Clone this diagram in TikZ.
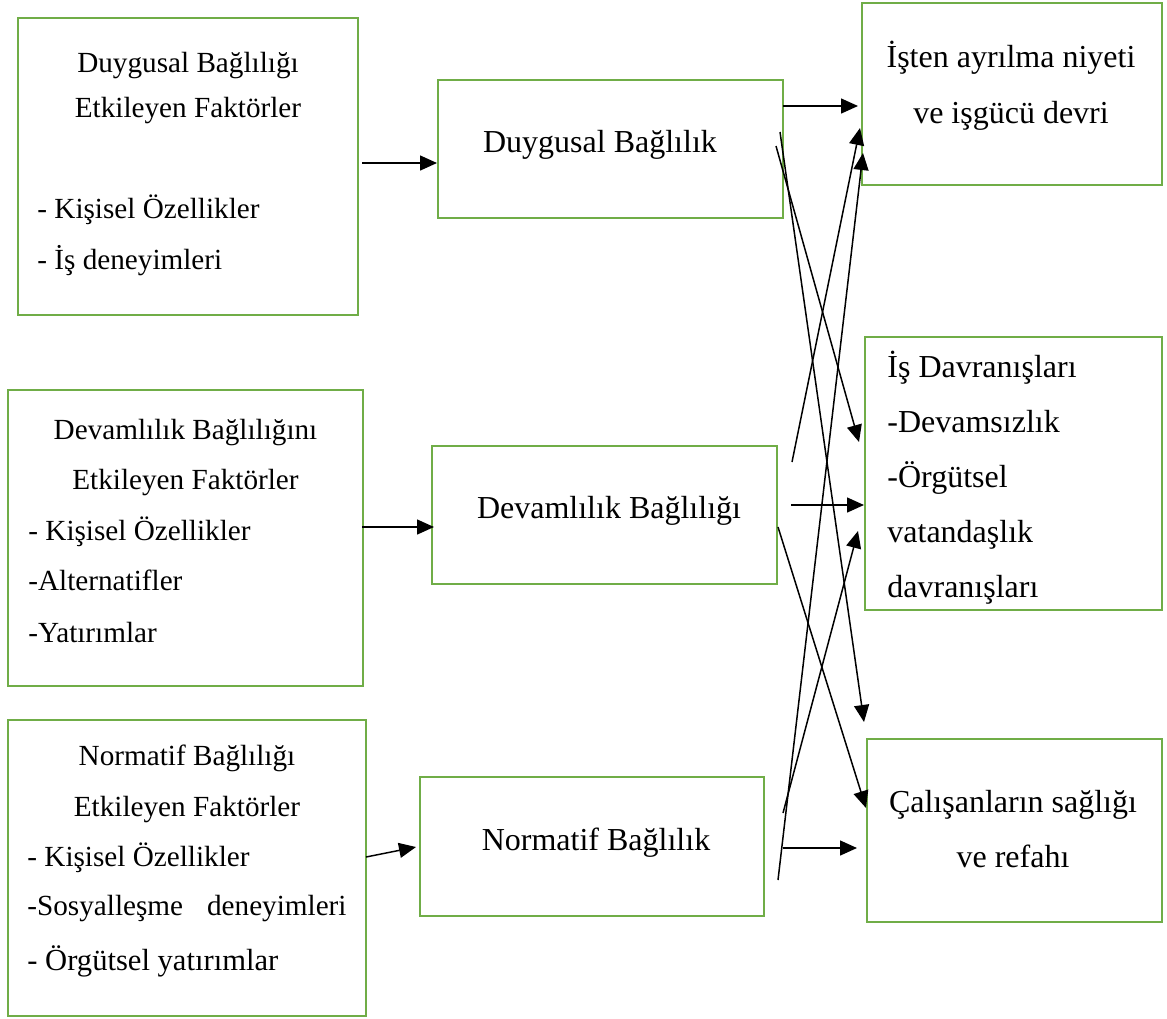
\documentclass[tikz,border=0pt]{standalone}
\usepackage{fontspec}
\setmainfont{Liberation Serif}
\usetikzlibrary{arrows.meta}
\definecolor{kutuyesil}{HTML}{70AD47}
\begin{document}
\begin{tikzpicture}[x=0.5pt,y=-0.5pt,
  kutu/.style={draw=kutuyesil,line width=1.25pt,inner sep=0pt},
  yazi/.style={inner sep=0pt,font=\fontsize{16pt}{19pt}\selectfont},
  yazik/.style={inner sep=0pt,font=\fontsize{14.6pt}{18pt}\selectfont},
  ok/.style={->,line width=0.75pt},
  >={Triangle[length=8.5pt,width=7.5pt]}]
\useasboundingbox[fill=white] (0,0) rectangle (1167,1018);
% kutular
\node[kutu,minimum width=170pt,minimum height=148.5pt] (dbf) at (188,166.5) {};
\node[kutu,minimum width=177.5pt,minimum height=148pt] (dvf) at (185.5,538) {};
\node[kutu,minimum width=179pt,minimum height=148pt] (nbf) at (187,868) {};
\node[kutu,minimum width=172.5pt,minimum height=69pt] (db) at (610.5,149) {};
\node[kutu,minimum width=172.5pt,minimum height=69pt] (dv) at (604.5,515) {};
\node[kutu,minimum width=172pt,minimum height=69.5pt] (nb) at (592,846.5) {};
\node[kutu,minimum width=150pt,minimum height=91pt] (ian) at (1012,94) {};
\node[kutu,minimum width=148.5pt,minimum height=136.5pt] (isd) at (1013.5,473.5) {};
\node[kutu,minimum width=147.5pt,minimum height=91.5pt] (csr) at (1014.5,830.5) {};
% yazilar
\node[yazik,anchor=base] (dbf1) at (188,72) {Duygusal Bağlılığı};
\node[yazik,anchor=base] (dbf2) at (188,117) {Etkileyen Faktörler};
\node[yazik,anchor=base west] (dbf3) at (37,218) {- Kişisel Özellikler};
\node[yazik,anchor=base west] (dbf4) at (37,269) {- İş deneyimleri};
\node[yazik,anchor=base] (dvf1) at (185.5,439) {Devamlılık Bağlılığını};
\node[yazik,anchor=base] (dvf2) at (185.5,489) {Etkileyen Faktörler};
\node[yazik,anchor=base west] (dvf3) at (28,540) {- Kişisel Özellikler};
\node[yazik,anchor=base west] (dvf4) at (28,590) {-Alternatifler};
\node[yazik,anchor=base west] (dvf5) at (28,642) {-Yatırımlar};
\node[yazik,anchor=base] (nbf1) at (187,765) {Normatif Bağlılığı};
\node[yazik,anchor=base] (nbf2) at (187,816) {Etkileyen Faktörler};
\node[yazik,anchor=base west] (nbf3) at (27,866) {- Kişisel Özellikler};
\node[yazik,anchor=base west] (nbf4) at (27,915) {-Sosyalleşme\hspace{12pt}deneyimleri};
\node[yazik,anchor=base west,font=\fontsize{15.3pt}{18pt}\selectfont] (nbf5) at (27,970) {- Örgütsel yatırımlar};
\node[yazi,anchor=base] (db1) at (600,152) {Duygusal Bağlılık};
\node[yazi,anchor=base] (dv1) at (609,518) {Devamlılık Bağlılığı};
\node[yazi,anchor=base] (nb1) at (596,850) {Normatif Bağlılık};
\node[yazi,anchor=base] (ian1) at (1011,67) {İşten ayrılma niyeti};
\node[yazi,anchor=base] (ian2) at (1011,123) {ve işgücü devri};
\node[yazi,anchor=base west] (isd1) at (887,377) {İş Davranışları};
\node[yazi,anchor=base west] (isd2) at (887,432) {-Devamsızlık};
\node[yazi,anchor=base west] (isd3) at (887,487) {-Örgütsel};
\node[yazi,anchor=base west] (isd4) at (887,542) {vatandaşlık};
\node[yazi,anchor=base west] (isd5) at (887,597) {davranışları};
\node[yazi,anchor=base] (csr1) at (1013,812) {Çalışanların sağlığı};
\node[yazi,anchor=base] (csr2) at (1013,867) {ve refahı};
% ok uclari
\coordinate (dbf-o) at (362,163); \coordinate (db-g) at (437,163);
\coordinate (dvf-o) at (362,527); \coordinate (dv-g) at (434,527);
\coordinate (nbf-o) at (366,857); \coordinate (nb-g) at (416,847);
\coordinate (db-a) at (783,106); \coordinate (ian-a) at (858,106);
\coordinate (db-b) at (776,146); \coordinate (isd-b) at (859,442);
\coordinate (db-c) at (780,132); \coordinate (csr-c) at (864,722);
\coordinate (dv-a) at (792,462); \coordinate (ian-b) at (860,128);
\coordinate (dv-b) at (791,505); \coordinate (isd-a) at (864,505);
\coordinate (dv-c) at (778,527); \coordinate (csr-b) at (866,808);
\coordinate (nb-a) at (778,880); \coordinate (ian-c) at (863,153);
\coordinate (nb-b) at (783,813); \coordinate (isd-c) at (858,531);
\coordinate (nb-c) at (783,848); \coordinate (csr-a) at (857,848);
% oklar
\draw[ok] (dbf-o) -- (db-g);
\draw[ok] (dvf-o) -- (dv-g);
\draw[ok] (nbf-o) -- (nb-g);
\draw[ok] (db-a) -- (ian-a);
\draw[ok] (db-b) -- (isd-b);
\draw[ok] (db-c) -- (csr-c);
\draw[ok] (dv-a) -- (ian-b);
\draw[ok] (dv-b) -- (isd-a);
\draw[ok] (dv-c) -- (csr-b);
\draw[ok] (nb-a) -- (ian-c);
\draw[ok] (nb-b) -- (isd-c);
\draw[ok] (nb-c) -- (csr-a);
\end{tikzpicture}
\end{document}
